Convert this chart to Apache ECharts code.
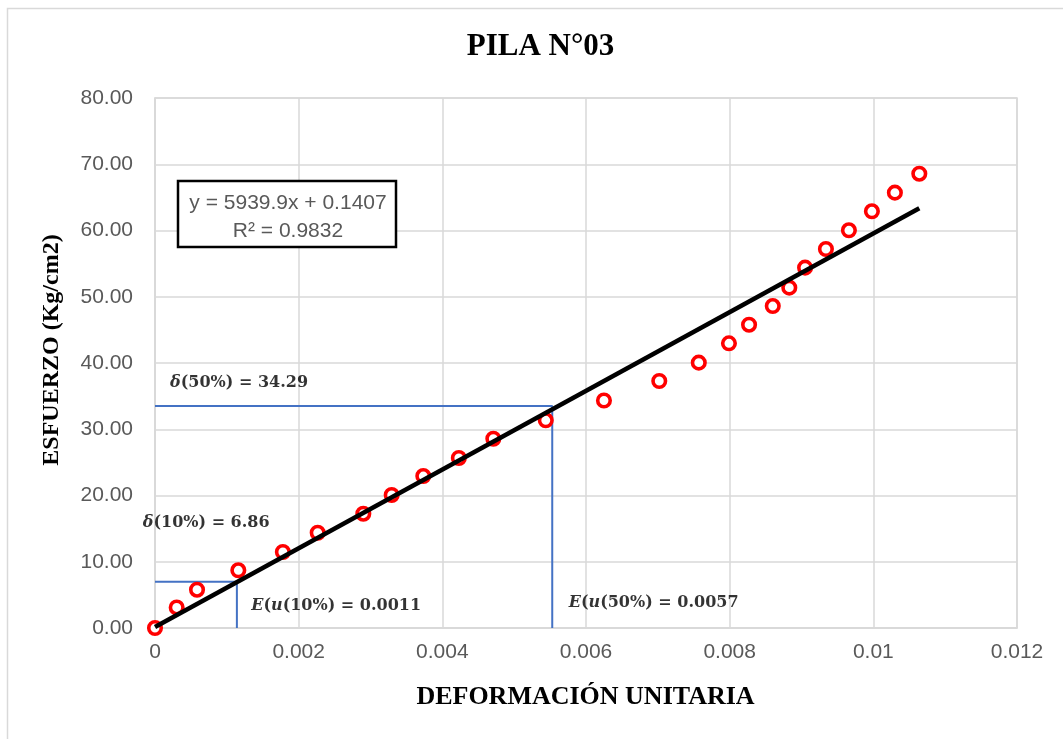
<!DOCTYPE html>
<html>
<head>
<meta charset="utf-8">
<script src="https://cdn.jsdelivr.net/npm/echarts@6/dist/echarts.min.js"></script>
<style>
html,body{margin:0;padding:0;background:#fff;}
#chart{width:1063px;height:739px;}
</style>
</head>
<body>
<div id="chart"></div>
<script>
// ---- data ----
const strainX = [0, 0.000302, 0.000585, 0.00116, 0.00178, 0.002265, 0.0029, 0.003295, 0.003735, 0.00423, 0.00471, 0.00544, 0.00625, 0.00702, 0.00757, 0.00799, 0.00827, 0.0086, 0.00883, 0.00905, 0.00934, 0.00966, 0.00998, 0.0103, 0.01064];
const stressY = [0, 3.1, 5.78, 8.71, 11.47, 14.38, 17.25, 20.08, 22.94, 25.66, 28.57, 31.35, 34.34, 37.28, 40.05, 42.97, 45.78, 48.6, 51.37, 54.39, 57.21, 60.03, 62.9, 65.71, 68.57];
const trendX = [0, 0.01064];
const trendY = [0.14, 63.35];
const ref10X = [0, 0.00114, 0.00114];
const ref10Y = [7.0, 7.0, 0];
const ref50X = [0, 0.00553, 0.00553];
const ref50Y = [33.5, 33.5, 0];
const annotX = [0.00021, -0.00017, 0.00134, 0.00576];
const annotY = [36.98, 15.85, 3.32, 3.77];
const annotText = [
  '{i|δ}{b|(50%) = 34.29}',
  '{i|δ}{b|(10%) = 6.86}',
  '{i|E}{b|(}{i|u}{b|(10%) = 0.0011}',
  '{i|E}{b|(}{i|u}{b|(50%) = 0.0057}'
];
const chartTitle = 'PILA N°03';
const xTitle = 'DEFORMACIÓN UNITARIA';
const yTitle = 'ESFUERZO (Kg/cm2)';
const eqLines = ['y = 5939.9x + 0.1407', 'R² = 0.9832'];
const xTicks = {min: 0, max: 0.012, interval: 0.002};
const yTicks = {min: 0, max: 80, interval: 10};

const zip = (a, b) => a.map((v, i) => [v, b[i]]);

const chart = echarts.init(document.getElementById('chart'), null, {renderer: 'canvas'});
const tickFont = {color: '#595959', fontFamily: 'Liberation Sans', fontSize: 21};
const mathRich = {
  i: {fontFamily: 'DejaVu Serif', fontWeight: 'bold', fontStyle: 'italic', fontSize: 16, color: '#000'},
  b: {fontFamily: 'DejaVu Serif', fontWeight: 'bold', fontSize: 16, color: '#000'}
};

chart.setOption({
  animation: false,
  backgroundColor: '#fff',
  grid: {left: 155, top: 98, width: 862, height: 530, show: true, borderColor: '#d9d9d9', borderWidth: 1.5, backgroundColor: 'transparent'},
  xAxis: {
    type: 'value', min: xTicks.min, max: xTicks.max, interval: xTicks.interval,
    axisLine: {show: true, lineStyle: {color: '#d9d9d9', width: 1.5}},
    axisTick: {show: false},
    splitLine: {show: true, lineStyle: {color: '#d9d9d9', width: 1.5}},
    axisLabel: Object.assign({margin: 14, formatter: v => String(parseFloat(v.toFixed(4)))}, tickFont)
  },
  yAxis: {
    type: 'value', min: yTicks.min, max: yTicks.max, interval: yTicks.interval,
    axisLine: {show: true, lineStyle: {color: '#d9d9d9', width: 1.5}},
    axisTick: {show: false},
    splitLine: {show: true, lineStyle: {color: '#d9d9d9', width: 1.5}},
    axisLabel: Object.assign({margin: 22, formatter: v => v.toFixed(2)}, tickFont)
  },
  series: [
    {
      type: 'line', data: zip(ref10X, ref10Y), symbol: 'none', z: 2,
      lineStyle: {color: '#4472C4', width: 2}, silent: true
    },
    {
      type: 'line', data: zip(ref50X, ref50Y), symbol: 'none', z: 2,
      lineStyle: {color: '#4472C4', width: 2}, silent: true
    },
    {
      type: 'scatter', data: zip(strainX, stressY), symbol: 'circle', symbolSize: 12.5, z: 3,
      itemStyle: {color: '#fff', borderColor: '#FF0000', borderWidth: 3.6, opacity: 1}
    },
    {
      type: 'line', data: zip(trendX, trendY), symbol: 'none', z: 4,
      lineStyle: {color: '#000', width: 4.5}
    },
    {
      type: 'scatter', data: zip(annotX, annotY), symbolSize: 0, z: 5, clip: false, silent: true,
      label: {
        show: true, position: 'right', distance: 0,
        formatter: p => annotText[p.dataIndex],
        rich: mathRich
      }
    }
  ],
  graphic: [
    {type: 'rect', shape: {x: 7.5, y: 8.5, width: 1070, height: 750}, style: {fill: 'none', stroke: '#d9d9d9', lineWidth: 1.5}, z: 0, silent: true},
    {type: 'text', x: 540.5, y: 47, style: {text: chartTitle, font: 'bold 31px "Liberation Serif"', fill: '#000', align: 'center', verticalAlign: 'middle'}},
    {type: 'text', x: 585.5, y: 697, style: {text: xTitle, font: 'bold 26px "Liberation Serif"', fill: '#000', align: 'center', verticalAlign: 'middle'}},
    {type: 'text', x: 52, y: 350, rotation: Math.PI / 2, style: {text: yTitle, font: 'bold 24px "Liberation Serif"', fill: '#000', align: 'center', verticalAlign: 'middle'}},
    {type: 'rect', shape: {x: 178, y: 181, width: 218, height: 66}, style: {fill: '#fff', stroke: '#000', lineWidth: 2.5}, z: 10},
    {type: 'text', x: 288, y: 203, z: 11, style: {text: eqLines[0], font: '21px "Liberation Sans"', fill: '#595959', align: 'center', verticalAlign: 'middle'}},
    {type: 'text', x: 288, y: 231, z: 11, style: {text: eqLines[1], font: '21px "Liberation Sans"', fill: '#595959', align: 'center', verticalAlign: 'middle'}}
  ]
});
</script>
</body>
</html>
